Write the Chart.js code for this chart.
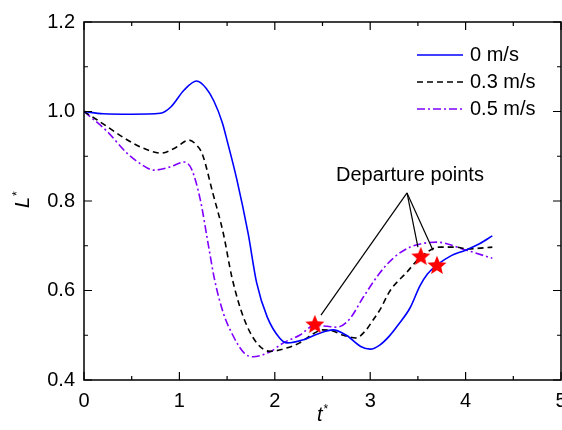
<!DOCTYPE html>
<html><head><meta charset="utf-8">
<script src="https://cdn.jsdelivr.net/npm/chart.js@4.4.0/dist/chart.umd.min.js"></script>
<style>html,body{margin:0;padding:0;background:#fff;} canvas{display:block;}</style>
</head><body>
<canvas id="c" width="562" height="430"></canvas>
<script>
const seriesNames = ['0 m/s', '0.3 m/s', '0.5 m/s'];
const seriesColors = ['#0000FF', '#000000', '#8000FF'];

const tBlue = [0, 0.2, 0.5, 0.8, 0.91, 1.05, 1.18, 1.28, 1.36, 1.45, 1.5, 1.6, 1.72, 1.81, 1.92, 2.05, 2.13, 2.3, 2.45, 2.61, 2.75, 2.9, 3.0, 3.1, 3.2, 3.3, 3.42, 3.52, 3.6, 3.7, 3.85, 4.0, 4.15, 4.28];
const LBlue = [1.0, 0.995, 0.994, 0.996, 1.01, 1.048, 1.068, 1.052, 1.024, 0.975, 0.935, 0.85, 0.728, 0.617, 0.541, 0.494, 0.483, 0.49, 0.503, 0.512, 0.5, 0.475, 0.469, 0.478, 0.498, 0.525, 0.562, 0.61, 0.637, 0.657, 0.678, 0.69, 0.705, 0.722];

const tBlack = [0, 0.14, 0.42, 0.6, 0.81, 0.95, 1.1, 1.18, 1.24, 1.35, 1.46, 1.55, 1.67, 1.81, 1.95, 2.1, 2.26, 2.4, 2.5, 2.6, 2.72, 2.85, 2.95, 3.03, 3.1, 3.21, 3.38, 3.53, 3.73, 3.9, 4.01, 4.28];
const LBlack = [1.0, 0.981, 0.941, 0.92, 0.907, 0.918, 0.936, 0.925, 0.905, 0.818, 0.728, 0.63, 0.541, 0.483, 0.464, 0.47, 0.483, 0.503, 0.512, 0.51, 0.5, 0.494, 0.51, 0.534, 0.556, 0.6, 0.64, 0.675, 0.697, 0.697, 0.693, 0.697];

const tPurple = [0, 0.24, 0.45, 0.6, 0.73, 0.9, 1.05, 1.13, 1.22, 1.3, 1.37, 1.46, 1.56, 1.68, 1.77, 1.95, 2.09, 2.26, 2.42, 2.55, 2.65, 2.78, 2.93, 3.1, 3.24, 3.42, 3.7, 4.01, 4.28];
const LPurple = [1.0, 0.956, 0.907, 0.882, 0.869, 0.876, 0.887, 0.87, 0.802, 0.706, 0.623, 0.55, 0.5, 0.46, 0.452, 0.463, 0.483, 0.5, 0.522, 0.52, 0.518, 0.535, 0.586, 0.639, 0.672, 0.697, 0.708, 0.69, 0.672];

const starT = [2.42, 3.53, 3.70];
const starL = [0.525, 0.677, 0.657];

const noteText = 'Departure points';
const noteAt = [3.417, 0.856];
const noteFrom = [3.386, 0.818];
const noteToT = [2.484, 3.50, 3.658];
const noteToL = [0.545, 0.697, 0.690];

const xTicks = [0, 1, 2, 3, 4, 5];
const yTicks = [0.4, 0.6, 0.8, 1.0, 1.2];
const xMinor = [0.5, 1.5, 2.5, 3.5, 4.5];
const yMinor = [0.5, 0.7, 0.9, 1.1];

function pts(xs, ys) { return xs.map((x, i) => ({ x: x, y: ys[i] })); }

function makeStar(r) {
  const c = document.createElement('canvas');
  const s = Math.ceil(r * 2 + 2);
  c.width = s; c.height = s;
  const g = c.getContext('2d');
  g.fillStyle = '#FF0000';
  g.beginPath();
  for (let i = 0; i < 10; i++) {
    const a = -Math.PI / 2 + i * Math.PI / 5;
    const rr = (i % 2) ? r * 0.45 : r;
    g.lineTo(s / 2 + rr * Math.cos(a), s / 2 + rr * Math.sin(a) + r * 0.08);
  }
  g.closePath();
  g.fill();
  return c;
}
const starImg = makeStar(10);

const dashes = [[], [6, 4], [8, 3, 2, 3]];
const FONT = '"Liberation Sans", Arial, sans-serif';

const datasets = [];
datasets.push({ data: pts(starT, starL), showLine: false, pointStyle: starImg, pointRadius: 10, order: 0 });
noteToT.forEach((t, i) => {
  datasets.push({ data: pts([noteFrom[0], t], [noteFrom[1], noteToL[i]]), showLine: true, borderColor: '#000', borderWidth: 1.2, pointRadius: 0, tension: 0, order: 1 });
});
[[tBlue, LBlue], [tBlack, LBlack], [tPurple, LPurple]].forEach((s, i) => {
  datasets.push({ label: seriesNames[i], data: pts(s[0], s[1]), showLine: true, borderColor: seriesColors[i], borderWidth: 1.6, borderDash: dashes[i], pointRadius: 0, cubicInterpolationMode: 'monotone', order: 2 });
});

const decor = {
  id: 'decor',
  afterDatasetsDraw(chart) {
    const ctx = chart.ctx, a = chart.chartArea, xs = chart.scales.x, ys = chart.scales.y;
    ctx.save();
    ctx.strokeStyle = '#000'; ctx.lineWidth = 1.5; ctx.setLineDash([]);
    ctx.strokeRect(a.left, a.top, a.right - a.left, a.bottom - a.top);
    ctx.lineWidth = 1.2;
    ctx.beginPath();
    const tick = (vals, len) => {
      vals.forEach(v => {
        const px = xs.getPixelForValue(v);
        ctx.moveTo(px, a.bottom); ctx.lineTo(px, a.bottom - len);
        ctx.moveTo(px, a.top); ctx.lineTo(px, a.top + len);
      });
    };
    const tickY = (vals, len) => {
      vals.forEach(v => {
        const py = ys.getPixelForValue(v);
        ctx.moveTo(a.left, py); ctx.lineTo(a.left + len, py);
        ctx.moveTo(a.right, py); ctx.lineTo(a.right - len, py);
      });
    };
    tick(xTicks, 8); tick(xMinor, 4); tickY(yTicks, 8); tickY(yMinor, 4);
    ctx.stroke();

    ctx.font = '20px ' + FONT; ctx.fillStyle = '#000'; ctx.textBaseline = 'middle'; ctx.textAlign = 'left';
    seriesNames.forEach((n, i) => {
      const y = 55 + i * 27;
      ctx.strokeStyle = seriesColors[i]; ctx.lineWidth = 1.6; ctx.setLineDash(dashes[i]);
      ctx.beginPath(); ctx.moveTo(417, y); ctx.lineTo(463, y); ctx.stroke();
      ctx.setLineDash([]);
      ctx.fillText(n, 470, y);
    });

    ctx.textAlign = 'center';
    ctx.fillText(noteText, xs.getPixelForValue(noteAt[0]), ys.getPixelForValue(noteAt[1]));

    ctx.textAlign = 'left'; ctx.textBaseline = 'alphabetic';
    ctx.font = 'italic 20px ' + FONT;
    ctx.fillText('t', 317, 421);
    const tw = ctx.measureText('t').width;
    ctx.font = '12px ' + FONT;
    ctx.fillText('*', 317 + tw + 1, 413);

    ctx.save();
    ctx.translate(29, 208);
    ctx.rotate(-Math.PI / 2);
    ctx.font = 'italic 20px ' + FONT;
    ctx.fillText('L', 0, 0);
    const lw = ctx.measureText('L').width;
    ctx.font = '12px ' + FONT;
    ctx.fillText('*', lw + 1, -8);
    ctx.restore();

    ctx.restore();
  }
};

new Chart(document.getElementById('c'), {
  type: 'scatter',
  data: { datasets: datasets },
  options: {
    responsive: false,
    animation: false,
    layout: { autoPadding: false, padding: { top: 22, right: 1, left: 0, bottom: 0 } },
    plugins: { legend: { display: false }, tooltip: { enabled: false } },
    scales: {
      x: {
        type: 'linear', min: 0, max: 5,
        afterBuildTicks: s => { s.ticks = xTicks.map(v => ({ value: v })); },
        ticks: { color: '#000', font: { size: 20, family: FONT }, padding: 9, maxRotation: 0, autoSkip: false, callback: v => String(v) },
        grid: { display: false, drawTicks: false },
        border: { display: false },
        afterFit: s => { s.height = 50; s.paddingLeft = 0; s.paddingRight = 0; }
      },
      y: {
        type: 'linear', min: 0.4, max: 1.2,
        afterBuildTicks: s => { s.ticks = yTicks.map(v => ({ value: v })); },
        ticks: { color: '#000', font: { size: 20, family: FONT }, padding: 9, autoSkip: false, callback: v => Number(v).toFixed(1) },
        grid: { display: false, drawTicks: false },
        border: { display: false },
        afterFit: s => { s.width = 84; s.paddingTop = 0; s.paddingBottom = 0; }
      }
    }
  },
  plugins: [decor]
});
</script>
</body></html>
